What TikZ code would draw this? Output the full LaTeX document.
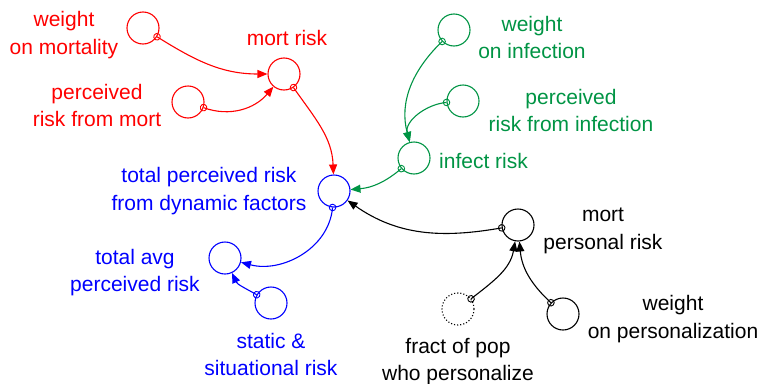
\documentclass[tikz,border=0pt]{standalone}
\usepackage{fontspec}
\setmainfont{Liberation Sans}
\usetikzlibrary{arrows.meta,decorations.markings}
\definecolor{vred}{RGB}{255,0,0}
\definecolor{vgreen}{RGB}{0,148,68}
\definecolor{vblue}{RGB}{0,0,255}

\begin{document}
\begin{tikzpicture}[x=1pt,y=1pt,
  aux/.style={circle,draw,line width=1.1pt,minimum size=32pt,inner sep=0pt},
  lbl/.style={align=center,font=\fontsize{21}{27.5}\selectfont,anchor=base,inner sep=0pt},
  link/.style={line width=1.1pt,-{Triangle[length=10pt,width=8pt]},
    postaction={decorate},
    decoration={markings,mark=at position 0 with {\draw[line width=0.9pt] (0,0) circle (3.3pt);}}},
]
\useasboundingbox (0,0) rectangle (760,-383);

% mortality branch
\node[aux,vred] (wom) at (143,-28) {};
\node[aux,vred] (mortrisk) at (284,-74) {};
\node[aux,vred] (prm) at (188,-102) {};
\node[lbl,vred] (womL) at (64,-54.2) {weight\\on mortality};
\node[lbl,vred] (mortriskL) at (287,-45.7) {mort risk};
\node[lbl,vred] (prmL) at (97,-126.5) {perceived\\risk from mort};

% infection branch
\node[aux,vgreen] (woi) at (454,-30) {};
\node[aux,vgreen] (pri) at (463,-101) {};
\node[aux,vgreen] (infect) at (414,-158) {};
\node[lbl,vgreen] (woiL) at (532,-58.5) {weight\\on infection};
\node[lbl,vgreen] (priL) at (571,-131.5) {perceived\\risk from infection};
\node[lbl,vgreen,anchor=base west] (infectL) at (439,-168.3) {infect risk};

% totals
\node[aux,vblue] (tpr) at (334,-191) {};
\node[aux,vblue] (tavg) at (225,-258) {};
\node[aux,vblue] (static) at (271,-303) {};
\node[lbl,vblue] (tprL) at (209,-210.2) {total perceived risk\\from dynamic factors};
\node[lbl,vblue] (tavgL) at (135,-291.5) {total avg\\perceived risk};
\node[lbl,vblue] (staticL) at (271,-375.5) {static \&\\situational risk};

% personalization
\node[aux] (mpr) at (518,-225) {};
\node[aux,dotted] (fract) at (458,-309) {};
\node[aux] (wop) at (563,-314) {};
\node[lbl] (mprL) at (603,-249.2) {mort\\personal risk};
\node[lbl] (wopL) at (673,-338.2) {weight\\on personalization};
\node[lbl] (fractL) at (458,-380.8) {fract of pop\\who personalize};

% links
\draw[link,vred] (wom) to[out=-32,in=180] (mortrisk);
\draw[link,vred] (prm) to[out=-20,in=230] (mortrisk);
\draw[link,vred] (mortrisk) to[out=-55,in=92] (tpr);

\draw[link,vgreen] (woi) to[out=224,in=105] (infect);
\draw[link,vgreen] (pri) to[out=185,in=105] (infect);
\draw[link,vgreen] (infect) to[out=220,in=5] (tpr);

\draw[link,vblue] (tpr) to[out=265,in=-15] (tavg);
\draw[link,vblue] (static) to[out=150,in=-65] (tavg);

\draw[link] (mpr) to[out=190,in=-35] (tpr);
\draw[link] (fract) to[out=38,in=260] (mpr);
\draw[link] (wop) to[out=137,in=275] (mpr);
\end{tikzpicture}
\end{document}
